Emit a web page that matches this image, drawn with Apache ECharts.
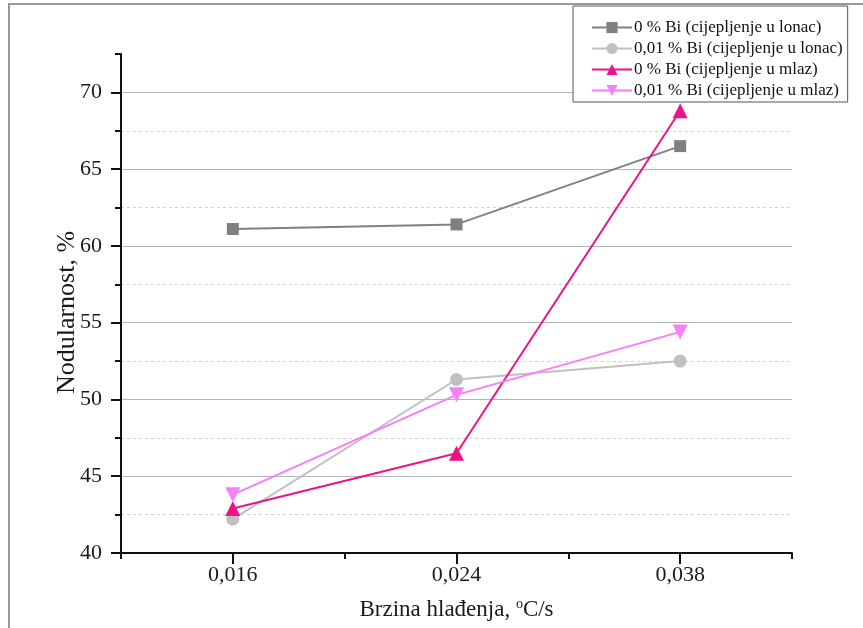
<!DOCTYPE html>
<html>
<head>
<meta charset="utf-8">
<script src="https://cdn.jsdelivr.net/npm/echarts@6/dist/echarts.min.js"></script>
<style>html,body{margin:0;padding:0;background:#fff}#c{width:863px;height:628px}</style>
</head>
<body>
<div id="c"></div>
<script>
const categories = ['0,016', '0,024', '0,038'];
const seriesNames = [
  '0 % Bi (cijepljenje u lonac)',
  '0,01 % Bi (cijepljenje u lonac)',
  '0 % Bi (cijepljenje u mlaz)',
  '0,01 % Bi (cijepljenje u mlaz)'
];
const bi0Lonac = [61.1, 61.4, 66.5];
const bi001Lonac = [42.2, 51.3, 52.5];
const bi0Mlaz = [42.9, 46.5, 68.8];
const bi001Mlaz = [43.8, 50.3, 54.4];
const yMin = 40, yMax = 72.5, yMajor = 5, yMinor = 2.5;

const font = 'Liberation Serif';
const chart = echarts.init(document.getElementById('c'), null, {renderer: 'canvas'});

function mk(name, data, color, symbol, size) {
  return {
    name: name, type: 'line', data: data, xAxisIndex: 1, yAxisIndex: 0,
    symbol: symbol, symbolSize: size, color: color,
    lineStyle: {color: color, width: 2},
    itemStyle: {color: color},
    z: 5
  };
}

chart.setOption({
  animation: false,
  backgroundColor: '#fff',
  graphic: [{
    type: 'rect', shape: {x: 9, y: 4, width: 900, height: 700},
    style: {fill: 'none', stroke: '#999', lineWidth: 2}, z: -1
  }],
  grid: {left: 121, right: 71, top: 54, bottom: 75, containLabel: false},
  legend: {
    orient: 'vertical', left: 573, top: 6,
    padding: [13, 5, 3, 18],
    itemWidth: 40, itemHeight: 14, itemGap: 4,
    backgroundColor: '#fff', borderColor: '#555', borderWidth: 1,
    textStyle: {fontFamily: font, fontSize: 17, lineHeight: 16, color: '#111', padding: [0, 0, 0, -3]},
    data: seriesNames
  },
  xAxis: [{
    type: 'category', data: categories, position: 'bottom', boundaryGap: true,
    axisLine: {show: false}, axisLabel: {show: false},
    axisTick: {show: true, length: 6, lineStyle: {color: '#111', width: 2}},
    splitLine: {show: false}
  }, {
    type: 'category', data: categories, position: 'bottom', offset: 0, boundaryGap: true,
    axisLine: {show: true, lineStyle: {color: '#111', width: 2}},
    axisTick: {show: true, alignWithLabel: true, length: 11, lineStyle: {color: '#111', width: 2}},
    axisLabel: {fontFamily: font, fontSize: 22, color: '#1a1a1a', margin: 11},
    splitLine: {show: false},
    name: 'Brzina hlađenja, {sup|o}C/s', nameLocation: 'middle', nameGap: 44,
    nameTextStyle: {fontFamily: font, fontSize: 23, color: '#1a1a1a',
      rich: {sup: {fontFamily: font, fontSize: 14, color: '#1a1a1a', verticalAlign: 'top', padding: [0, 0, 12, 0]}}}
  }],
  yAxis: [{
    type: 'value', min: yMin, max: yMax, interval: yMajor, position: 'left',
    axisLine: {show: true, lineStyle: {color: '#111', width: 2}},
    axisTick: {show: true, length: 10, lineStyle: {color: '#111', width: 2}},
    axisLabel: {fontFamily: font, fontSize: 22, color: '#1a1a1a', margin: 19, showMaxLabel: false},
    splitLine: {show: true, showMaxLine: false, lineStyle: {color: '#b5b5b5', width: 1.2}},
    name: 'Nodularnost, %', nameLocation: 'middle', nameGap: 41, nameRotate: 90, nameMoveOverlap: false,
    nameTextStyle: {fontFamily: font, fontSize: 26, color: '#1a1a1a', padding: [0, 18, 0, 0]}
  }, {
    type: 'value', min: yMin, max: yMax, interval: yMinor, position: 'left', offset: 0,
    axisLine: {show: false}, axisLabel: {show: false},
    axisTick: {show: true, length: 6, lineStyle: {color: '#111', width: 2}},
    splitLine: {show: true, showMaxLine: false, lineStyle: {color: ['rgba(0,0,0,0)', '#d0d0d0'], width: 1, type: [3, 3]}}
  }],
  series: [
    mk(seriesNames[0], bi0Lonac, '#808080', 'rect', 12),
    mk(seriesNames[1], bi001Lonac, '#c0c0c0', 'circle', 13),
    mk(seriesNames[2], bi0Mlaz, '#ee1289', 'triangle', 15),
    Object.assign(mk(seriesNames[3], bi001Mlaz, '#f77ff7', 'triangle', 15), {symbolRotate: 180})
  ]
});
</script>
</body>
</html>
